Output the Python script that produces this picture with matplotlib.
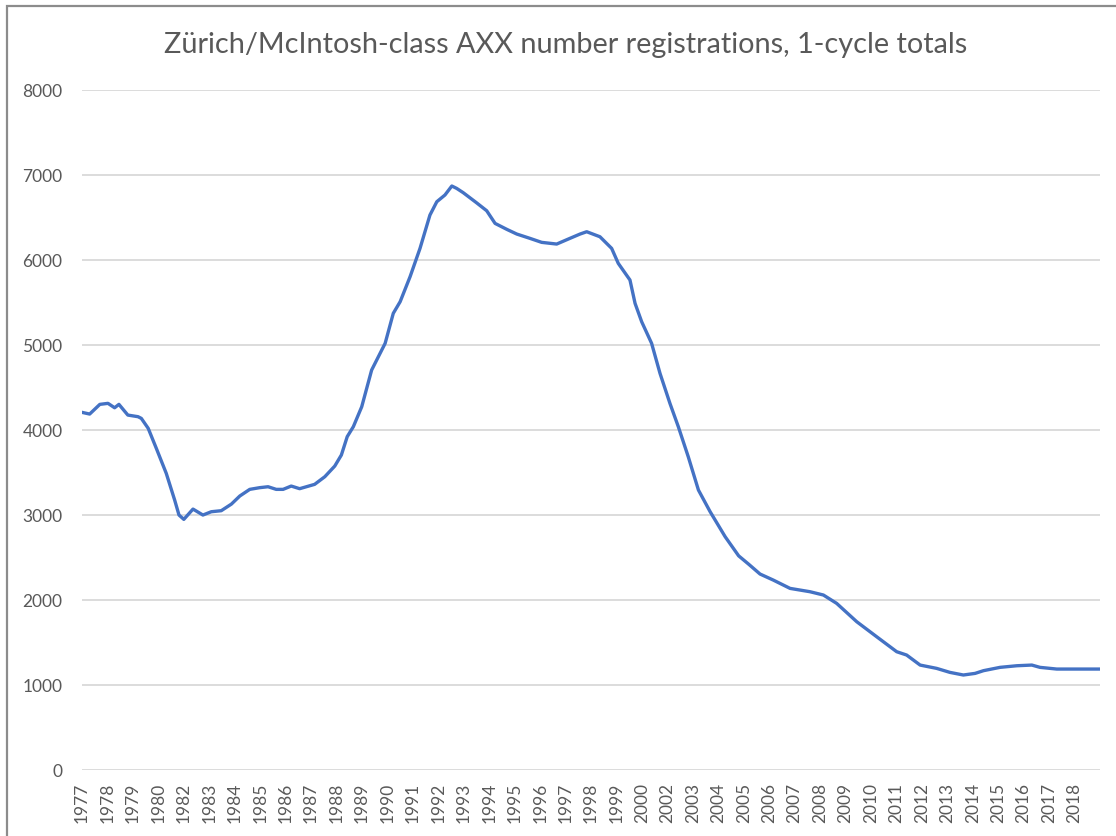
import matplotlib
matplotlib.use("Agg")
import matplotlib.pyplot as plt
from matplotlib.patches import Rectangle

# --- data ---
# position along the category axis, in label periods (0 = first label "1977")
period = [0.0, 0.3, 0.7, 1.02, 1.28, 1.45, 1.8, 2.2, 2.33, 2.6, 2.92, 3.31, 3.64,
          3.81, 4.0, 4.36, 4.75, 5.08, 5.47, 5.87, 6.2, 6.59, 6.98, 7.31, 7.63,
          7.9, 8.22, 8.55, 9.14, 9.54, 9.93, 10.19, 10.42, 10.66, 10.99, 11.38,
          11.91, 12.23, 12.5, 12.89, 13.28, 13.67, 13.94, 14.26, 14.53, 14.72,
          14.98, 15.5, 15.9, 16.23, 16.69, 17.08, 17.6, 18.06, 18.65, 19.17,
          19.57, 19.83, 20.35, 20.81, 21.07, 21.53, 21.73, 21.99, 22.38, 22.71,
          23.1, 23.43, 23.82, 24.22, 24.68, 25.27, 25.8, 26.2, 26.64, 27.16,
          27.82, 28.6, 29.13, 29.65, 30.44, 31.22, 32.01, 32.4, 32.93, 33.58,
          34.1, 34.63, 35.09, 35.42, 36.07, 36.73, 37.32, 37.64, 38.3, 38.95, 40.0]
registrations = [4208, 4188, 4302, 4314, 4262, 4302, 4176, 4157, 4137, 4020, 3784,
                 3490, 3176, 3000, 2949, 3070, 3000, 3039, 3051, 3129, 3224, 3302,
                 3322, 3333, 3302, 3302, 3341, 3310, 3361, 3451, 3576, 3706, 3922,
                 4039, 4274, 4706, 5020, 5373, 5510, 5804, 6137, 6529, 6686, 6765,
                 6871, 6843, 6792, 6674, 6580, 6431, 6361, 6306, 6255, 6208, 6188,
                 6255, 6306, 6333, 6274, 6137, 5961, 5765, 5490, 5274, 5020, 4667,
                 4314, 4039, 3686, 3294, 3039, 2745, 2520, 2420, 2306, 2235, 2137,
                 2098, 2059, 1961, 1745, 1569, 1392, 1353, 1235, 1196, 1149, 1118,
                 1137, 1169, 1208, 1227, 1235, 1208, 1188, 1188, 1188]
year_labels = ['1977', '1978', '1979', '1980', '1982', '1983', '1984', '1985',
               '1986', '1987', '1988', '1989', '1990', '1991', '1992', '1993',
               '1994', '1995', '1996', '1997', '1998', '1999', '2000', '2002',
               '2003', '2004', '2005', '2006', '2007', '2008', '2009', '2010',
               '2011', '2012', '2013', '2014', '2015', '2016', '2017', '2018']
y_ticks = [0, 1000, 2000, 3000, 4000, 5000, 6000, 7000, 8000]

plt.rcParams['font.family'] = ['Lato', 'DejaVu Sans']
text_grey = '#595959'

fig = plt.figure(figsize=(11.16, 8.36), dpi=100)
ax = fig.add_axes([0.0735, 0.0789, 0.9122, 0.8134])

ax.plot(period, registrations, color='#4472C4', lw=2.4, solid_joinstyle='round')

ax.set_xlim(0, len(year_labels))
ax.set_ylim(0, 8000)
ax.set_yticks(y_ticks)
ax.set_yticklabels([str(v) for v in y_ticks])
ax.set_xticks(range(len(year_labels)))
ax.set_xticklabels(year_labels, rotation=90, ha='center', va='top')

ax.tick_params(axis='both', length=0, labelsize=12.5, labelcolor=text_grey)
ax.tick_params(axis='y', pad=14)
ax.tick_params(axis='x', pad=9)
for s in ax.spines.values():
    s.set_visible(False)
ax.grid(axis='y', color='#d9d9d9', lw=1.3)
ax.set_axisbelow(True)

fig.text(0.507, 0.946, 'Zürich/McIntosh-class AXX number registrations, 1-cycle totals',
         ha='center', va='center', fontsize=20.8, color=text_grey)

# chart border (cut off on the right and bottom)
fig.patches.append(Rectangle((7 / 1116, -0.05), 1.2, 1.05 - 6 / 836, transform=fig.transFigure,
                             fill=False, edgecolor='#8c8c8c', lw=1.6))

fig.savefig('out.png', dpi=100)
